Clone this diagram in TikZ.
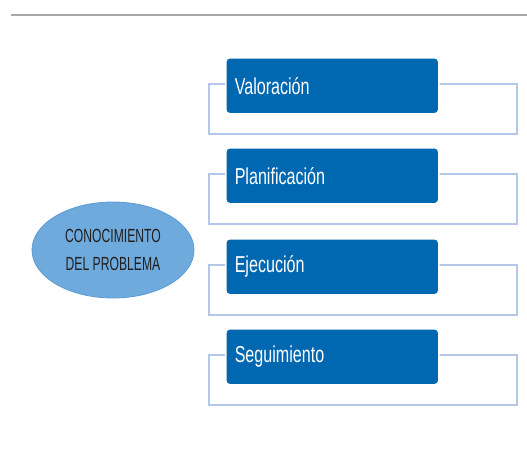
\documentclass[tikz,border=0pt]{standalone}
\usepackage{fontspec}
\setmainfont{Liberation Sans}
\newfontfamily\narrowfont[FakeStretch=0.70]{Liberation Sans}
\newfontfamily\narrowerfont[FakeStretch=0.64]{Liberation Sans}
\usetikzlibrary{shapes.geometric}
\definecolor{boxblue}{HTML}{0067B1}
\definecolor{framec}{HTML}{B4C7E7}
\definecolor{ellfill}{HTML}{6FAADD}
\definecolor{ellline}{HTML}{5D9BD6}
\definecolor{topgray}{HTML}{A8A8A8}
\tikzset{
  stepbox/.style={draw=white, line width=1.5pt, fill=boxblue, rounded corners=4pt,
    minimum width=213pt, minimum height=56pt, anchor=north west,
    text=white, font=\narrowfont\fontsize{23}{26}\selectfont, text width=195pt, align=left, inner xsep=9pt},
  frameline/.style={draw=framec, line width=2pt},
}
\begin{document}
\begin{tikzpicture}[x=1pt,y=-1pt]
\useasboundingbox (0,0) rectangle (527,458);
\coordinate (gl) at (11,15);
\coordinate (gr) at (527,15);
\draw[topgray, line width=2.5pt] (gl) -- (gr);
\foreach \y/\t/\n in {57/Valoración/a,147/Planificación/b,238/Ejecución/c,328/Seguimiento/d}{
  \draw[frameline] (209,\y+27) rectangle (517,\y+77);
  \node[stepbox] (\n) at (225,\y) {\t};
}
\node[ellipse, draw=ellline, line width=0.8pt, fill=ellfill, minimum width=162pt, minimum height=96pt,
  align=center, font=\narrowerfont\fontsize{19}{28}\selectfont, text=black!88] (cp) at (113,250)
  {CONOCIMIENTO\\DEL PROBLEMA};
\end{tikzpicture}
\end{document}
